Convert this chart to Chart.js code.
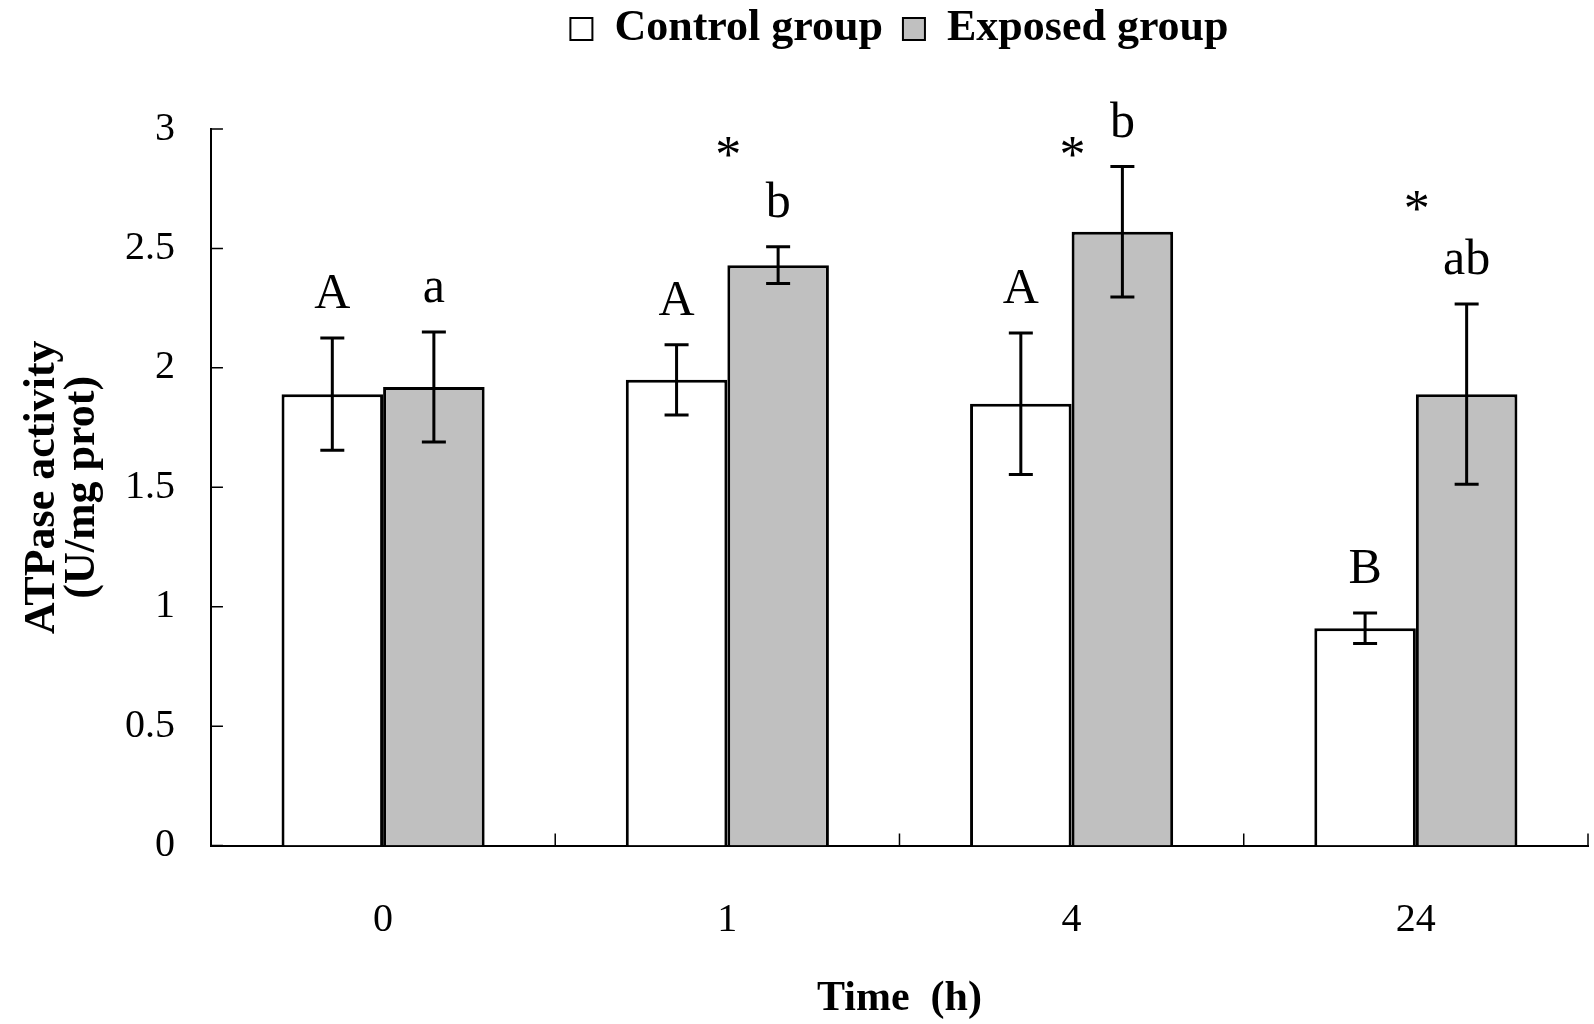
<!DOCTYPE html>
<html>
<head>
<meta charset="utf-8">
<script src="https://cdn.jsdelivr.net/npm/chart.js@4.4.0/dist/chart.umd.min.js"></script>
<style>
  body { margin: 0; background: #fff; }
  #wrap { width: 1594px; height: 1024px; }
</style>
</head>
<body>
<div id="wrap"><canvas id="myChart"></canvas></div>
<script>
// data
const timePoints = ["0", "1", "4", "24"];
const controlMean = [1.89, 1.95, 1.85, 0.91];
const controlErr = [0.235, 0.147, 0.296, 0.064];
const exposedMean = [1.92, 2.43, 2.57, 1.89];
const exposedErr = [0.23, 0.077, 0.273, 0.377];
const controlLetters = ["A", "A", "A", "B"];
const exposedLetters = ["a", "b", "b", "ab"];
const exposedStar = [false, true, true, true];

const serif = "'Liberation Serif', 'Times New Roman', serif";

// error bars on top of each bar
const errorBarPlugin = {
  id: "error_bars",
  afterDatasetsDraw(chart) {
    const { ctx, scales } = chart;
    const errs = [controlErr, exposedErr];
    const means = [controlMean, exposedMean];
    ctx.save();
    ctx.strokeStyle = "#000";
    ctx.lineWidth = 3;
    chart.data.datasets.forEach((ds, d) => {
      const meta = chart.getDatasetMeta(d);
      meta.data.forEach((bar, i) => {
        const x = bar.x;
        const top = scales.y.getPixelForValue(means[d][i] + errs[d][i]);
        const bot = scales.y.getPixelForValue(means[d][i] - errs[d][i]);
        ctx.beginPath();
        ctx.moveTo(x, top);
        ctx.lineTo(x, bot);
        ctx.moveTo(x - 12, top);
        ctx.lineTo(x + 12, top);
        ctx.moveTo(x - 12, bot);
        ctx.lineTo(x + 12, bot);
        ctx.stroke();
      });
    });
    ctx.restore();
  },
};

// tick marks pointing into the plot
const innerTicksPlugin = {
  id: "inner_ticks",
  afterDraw(chart) {
    const { ctx, scales, chartArea } = chart;
    ctx.save();
    ctx.strokeStyle = "#000";
    ctx.lineWidth = 1.5;
    ctx.beginPath();
    scales.y.ticks.forEach((t) => {
      const y = scales.y.getPixelForValue(t.value);
      ctx.moveTo(chartArea.left, y);
      ctx.lineTo(chartArea.left + 12, y);
    });
    for (let i = 0; i <= timePoints.length; i++) {
      const x = scales.x.getPixelForValue(i - 0.5);
      ctx.moveTo(x, chartArea.bottom);
      ctx.lineTo(x, chartArea.bottom - 12);
    }
    ctx.stroke();
    ctx.restore();
  },
};

// significance letters and stars
const lettersPlugin = {
  id: "sig_letters",
  afterDraw(chart) {
    const { ctx, scales } = chart;
    ctx.save();
    ctx.fillStyle = "#000";
    ctx.textAlign = "center";
    ctx.textBaseline = "alphabetic";
    const sets = [
      [controlMean, controlErr, controlLetters],
      [exposedMean, exposedErr, exposedLetters],
    ];
    sets.forEach(([m, e, letters], d) => {
      const meta = chart.getDatasetMeta(d);
      meta.data.forEach((bar, i) => {
        const base = scales.y.getPixelForValue(m[i] + e[i]) - 30;
        ctx.font = "50px " + serif;
        ctx.fillText(letters[i], bar.x, base);
        if (d === 1 && exposedStar[i]) {
          ctx.font = "52px " + serif;
          const sy = Math.max(base - 48, 172);
          ctx.fillText("*", bar.x - 50, sy);
        }
      });
    });
    ctx.restore();
  },
};

// leave room between the legend and the plot
const legendGapPlugin = {
  id: "legend_gap",
  beforeInit(chart) {
    const origFit = chart.legend.fit;
    chart.legend.fit = function () {
      origFit.call(this);
      this.height += 68;
    };
  },
};

new Chart(document.getElementById("myChart"), {
  type: "bar",
  data: {
    labels: timePoints,
    datasets: [
      {
        label: "Control group",
        data: controlMean,
        backgroundColor: "#ffffff",
        borderColor: "#000000",
        borderWidth: 3,
        categoryPercentage: 0.59,
        barPercentage: 1,
      },
      {
        label: "Exposed group",
        data: exposedMean,
        backgroundColor: "#c0c0c0",
        borderColor: "#000000",
        borderWidth: 3,
        categoryPercentage: 0.59,
        barPercentage: 1,
      },
    ],
  },
  options: {
    responsive: true,
    maintainAspectRatio: false,
    animation: false,
    layout: { padding: { top: -13, right: 6, left: 22, bottom: 0 } },
    scales: {
      x: {
        grid: { display: false, drawTicks: false },
        border: { color: "#000", width: 2 },
        ticks: {
          color: "#000",
          padding: 51,
          font: { family: serif, size: 40 },
        },
        title: {
          display: true,
          text: "Time  (h)",
          color: "#000",
          padding: { top: -22, bottom: 0 },
          font: { family: serif, size: 42, weight: "bold" },
        },
      },
      y: {
        min: 0,
        max: 3,
        grid: { display: false, drawTicks: false },
        border: { color: "#000", width: 2 },
        ticks: {
          stepSize: 0.5,
          color: "#000",
          padding: 36,
          font: { family: serif, size: 40 },
          callback: (v) => String(v),
        },
        title: {
          display: true,
          text: ["ATPase activity", "(U/mg prot)"],
          color: "#000",
          padding: { top: 0, bottom: -14 },
          font: { family: serif, size: 44, weight: "bold", lineHeight: 0.92 },
        },
      },
    },
    plugins: {
      legend: {
        display: true,
        position: "top",
        fullSize: false,
        labels: {
          color: "#000",
          boxWidth: 22,
          boxHeight: 22,
          padding: 20,
          font: { family: serif, size: 44, weight: "bold" },
          generateLabels(chart) {
            return Chart.defaults.plugins.legend.labels
              .generateLabels(chart)
              .map((item) => ({ ...item, lineWidth: 2 }));
          },
        },
      },
      tooltip: { enabled: false },
    },
  },
  plugins: [legendGapPlugin, errorBarPlugin, innerTicksPlugin, lettersPlugin],
});
</script>
</body>
</html>
